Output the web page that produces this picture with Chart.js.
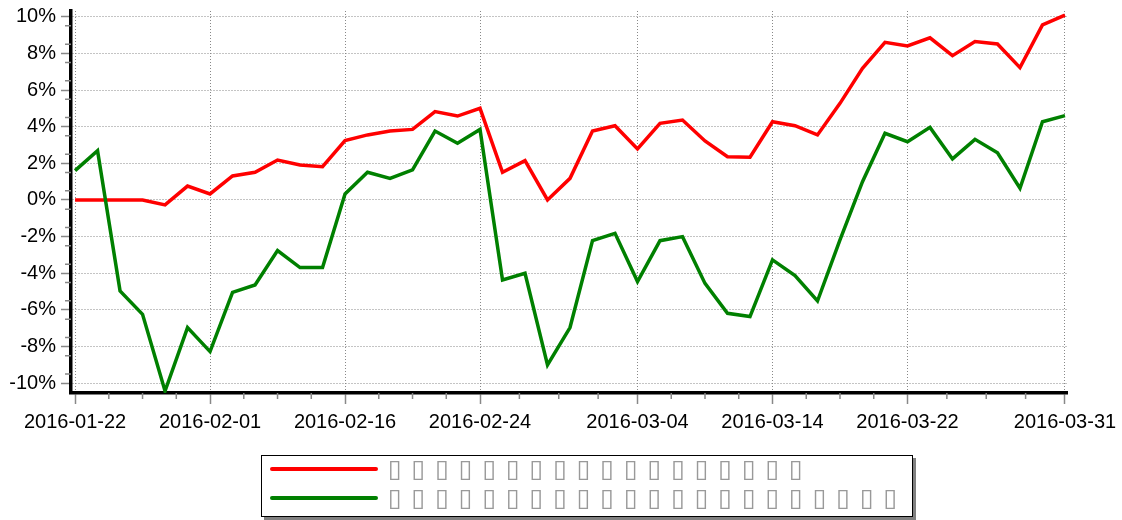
<!DOCTYPE html>
<html>
<head>
<meta charset="utf-8">
<script src="https://cdn.jsdelivr.net/npm/chart.js@4"></script>
<style>
body { margin: 0; background: #fff; }
#wrap { position: relative; width: 1122px; height: 520px; }
#legend { position: absolute; left: 261px; top: 455px; width: 650px; height: 60px; border: 1px solid #000;
  box-shadow: 3px 3px 0 #808080; background: #fff; font-family: 'DejaVu Sans'; }
.row { position: absolute; left: 0; width: 100%; height: 20px; }
.swatch { position: absolute; left: 8px; top: 8px; width: 108px; height: 4px; border-radius: 2px; }
.txt { position: absolute; left: 126px; top: -3px; color: #999; font-size: 25px; line-height: 26px; white-space: nowrap; }
.txt span { display: inline-block; width: 23.6px; }
</style>
</head>
<body>
<div id="wrap">
  <canvas id="chart" width="1122" height="520"></canvas>
  <div id="legend"></div>
</div>
<script>
// fechas de negociación (eje x)
const dates = [
  '2016-01-22', '2016-01-25', '2016-01-26', '2016-01-27', '2016-01-28', '2016-01-29',
  '2016-02-01', '2016-02-02', '2016-02-03', '2016-02-04', '2016-02-05',
  '2016-02-15', '2016-02-16', '2016-02-17', '2016-02-18', '2016-02-19',
  '2016-02-22', '2016-02-23', '2016-02-24', '2016-02-25', '2016-02-26',
  '2016-02-29', '2016-03-01', '2016-03-02', '2016-03-03', '2016-03-04',
  '2016-03-07', '2016-03-08', '2016-03-09', '2016-03-10', '2016-03-11',
  '2016-03-14', '2016-03-15', '2016-03-16', '2016-03-17', '2016-03-18',
  '2016-03-21', '2016-03-22', '2016-03-23', '2016-03-24', '2016-03-25',
  '2016-03-28', '2016-03-29', '2016-03-30', '2016-03-31'
];
// etiquetas visibles del eje x
const tickDates = ['2016-01-22', '2016-02-01', '2016-02-16', '2016-02-24', '2016-03-04', '2016-03-14', '2016-03-22', '2016-03-31'];
const yTicks = [-10, -8, -6, -4, -2, 0, 2, 4, 6, 8, 10];

// series (en %)
const redSeries = [0, 0, 0, 0, -0.27, 0.76, 0.33, 1.31, 1.51, 2.18, 1.91, 1.82, 3.24, 3.55, 3.76,
  3.85, 4.82, 4.58, 5.0, 1.51, 2.15, 0, 1.18, 3.76, 4.05, 2.78, 4.18, 4.36, 3.22, 2.36,
  2.33, 4.27, 4.05, 3.55, 5.27, 7.18, 8.6, 8.4, 8.85, 7.87, 8.64, 8.51, 7.22, 9.55, 10.09];
const greenSeries = [1.6, 2.69, -4.96, -6.24, -10.42, -6.96, -8.27, -5.04, -4.64, -2.76, -3.69, -3.69, 0.33, 1.51, 1.18,
  1.64, 3.76, 3.09, 3.85, -4.36, -4.0, -9.0, -6.96, -2.22, -1.82, -4.45, -2.22, -2.0, -4.55, -6.18,
  -6.36, -3.27, -4.13, -5.51, -2.18, 1.0, 3.64, 3.18, 3.96, 2.24, 3.31, 2.58, 0.64, 4.27, 4.6];

// nombres de la leyenda (texto original no legible, se ve como cajas)
const seriesNames = [
  '▯▯▯▯▯▯▯▯▯▯▯▯▯▯▯▯▯▯',
  '▯▯▯▯▯▯▯▯▯▯▯▯▯▯▯▯▯▯▯▯▯▯'
];
const seriesColors = ['#ff0000', '#008000'];

// marcas menores en los ejes
const minorTicks = {
  id: 'minorTicks',
  afterDraw(chart) {
    const { ctx, scales: { x, y } } = chart;
    const majors = tickDates.map(d => dates.indexOf(d));
    ctx.save();
    ctx.strokeStyle = '#888';
    ctx.lineWidth = 1.5;
    ctx.beginPath();
    for (let k = 0; k < majors.length - 1; k++) {
      for (let j = 1; j < 4; j++) {
        const px = x.getPixelForValue(majors[k] + (majors[k + 1] - majors[k]) * j / 4);
        ctx.moveTo(px, y.bottom);
        ctx.lineTo(px, y.bottom + 6);
      }
    }
    for (let v = -9.5; v < 10; v += 1) {
      const py = y.getPixelForValue(v);
      ctx.moveTo(x.left, py);
      ctx.lineTo(x.left - 6, py);
    }
    ctx.stroke();
    ctx.restore();
  }
};

const tickFont = { family: 'Liberation Sans', size: 20, lineHeight: 1 };

const ctx = document.getElementById('chart').getContext('2d');
new Chart(ctx, {
  type: 'line',
  data: {
    datasets: [{
      label: seriesNames[0],
      data: redSeries.map((v, i) => ({ x: i, y: v })),
      borderColor: seriesColors[0],
      borderWidth: 3.5,
      pointRadius: 0,
      fill: false,
      order: 1
    }, {
      label: seriesNames[1],
      data: greenSeries.map((v, i) => ({ x: i, y: v })),
      borderColor: seriesColors[1],
      borderWidth: 3.5,
      pointRadius: 0,
      fill: false,
      order: 0
    }]
  },
  options: {
    responsive: false,
    animation: false,
    layout: { padding: { top: 11, right: 55, bottom: 87, left: 0 } },
    plugins: { legend: { display: false }, tooltip: { enabled: false } },
    scales: {
      x: {
        type: 'linear',
        min: -0.18,
        max: 44.09,
        afterBuildTicks: s => { s.ticks = tickDates.map(d => ({ value: dates.indexOf(d) })); },
        afterFit: s => { s.height = 40; s.paddingLeft = 0; s.paddingRight = 0; },
        ticks: { callback: v => dates[v], font: tickFont, color: '#000', padding: 8, maxRotation: 0, autoSkip: false },
        grid: { color: '#888', lineWidth: 1, tickLength: 11, tickColor: '#888', tickWidth: 1.5 },
        border: { color: '#000', width: 3.5, dash: [1, 2] }
      },
      y: {
        min: -10.53,
        max: 10.31,
        afterBuildTicks: s => { s.ticks = yTicks.map(v => ({ value: v })); },
        afterFit: s => { s.width = 71; s.paddingTop = 0; s.paddingBottom = 0; },
        ticks: { callback: v => v + '%', font: tickFont, color: '#000', padding: 5 },
        grid: { color: '#888', lineWidth: 1, tickLength: 10, tickColor: '#888', tickWidth: 1.5 },
        border: { color: '#000', width: 3.5, dash: [1, 2] }
      }
    }
  },
  plugins: [minorTicks]
});

// leyenda con recuadro
const legend = document.getElementById('legend');
seriesNames.forEach((name, i) => {
  const row = document.createElement('div');
  row.className = 'row';
  row.style.top = (3 + i * 29) + 'px';
  const sw = document.createElement('div');
  sw.className = 'swatch';
  sw.style.background = seriesColors[i];
  const txt = document.createElement('div');
  txt.className = 'txt';
  txt.innerHTML = [...name].map(c => '<span>' + c + '</span>').join('');
  row.appendChild(sw);
  row.appendChild(txt);
  legend.appendChild(row);
});
</script>
</body>
</html>
